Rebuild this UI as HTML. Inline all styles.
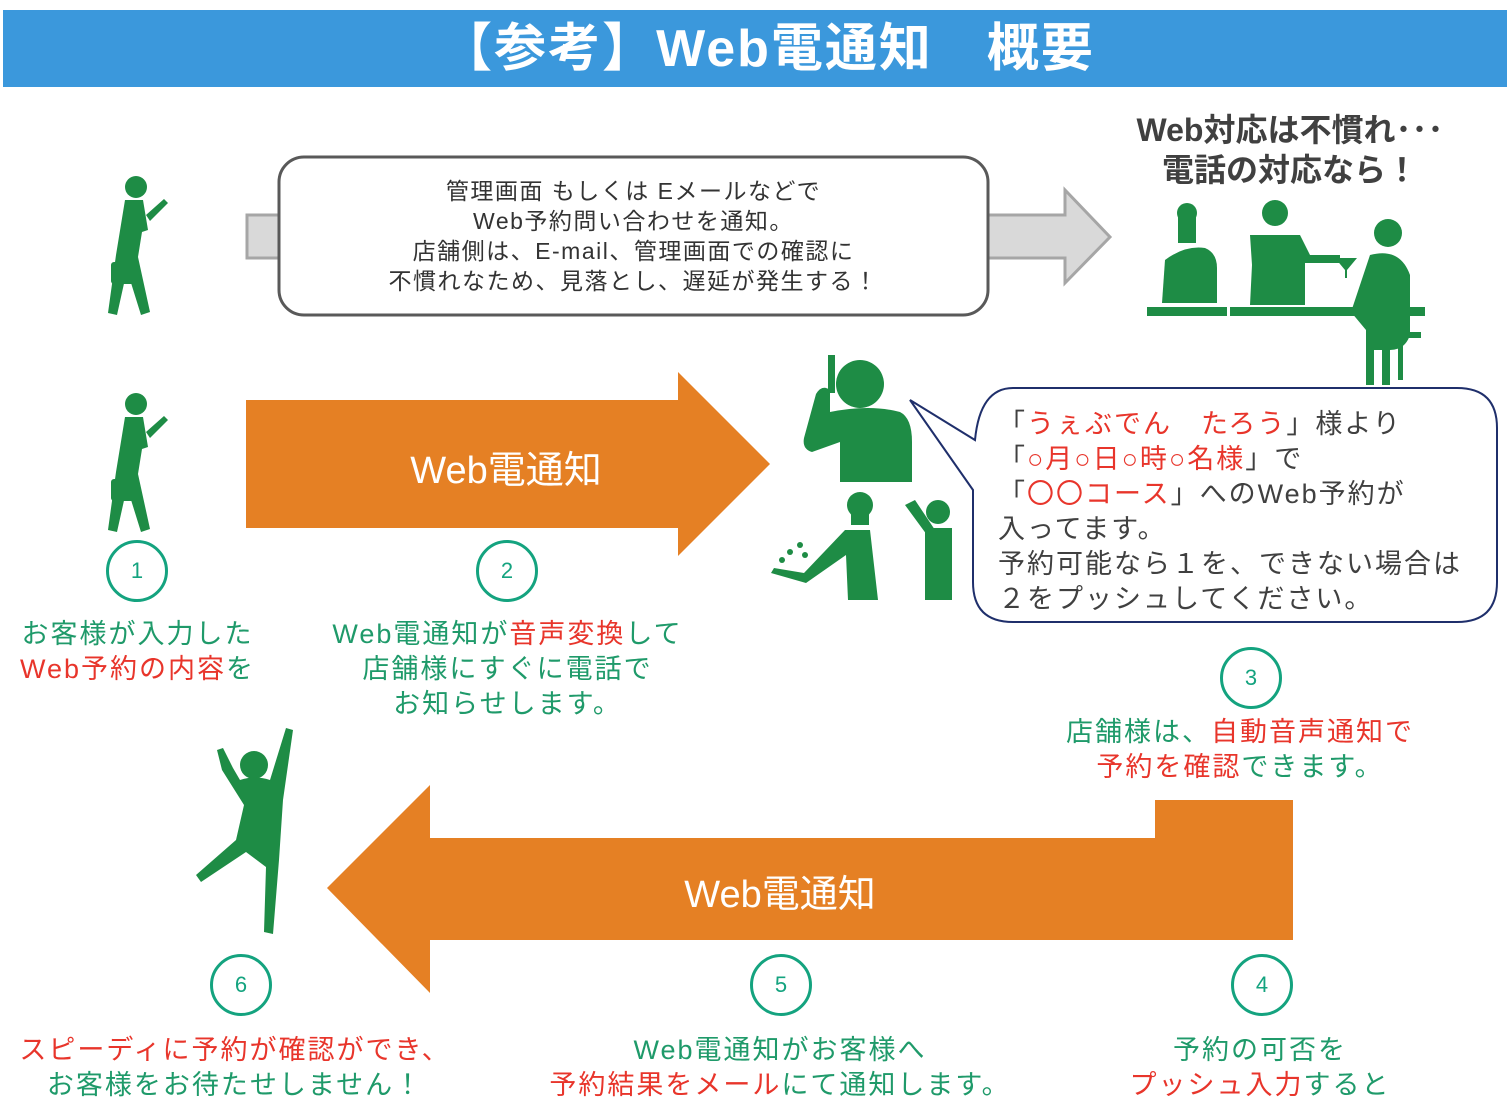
<!DOCTYPE html>
<html><head><meta charset="utf-8"><style>
body{margin:0;width:1507px;height:1109px;background:#fff;position:relative;overflow:hidden;font-family:"Liberation Sans","Noto Sans CJK JP",sans-serif}
.a{position:absolute;white-space:nowrap}
.g{color:#1f9a6a}.r{color:#e8352b}
.t{font-size:27px;text-align:center;line-height:35px;letter-spacing:2px}
.c{position:absolute;width:56px;height:56px;border:3px solid #14a37f;border-radius:50%;color:#14a37f;font-size:22px;text-align:center;line-height:56px;background:#fff}
</style></head><body>
<div class="a" style="left:3px;top:10px;width:1504px;height:77px;background:#3b98dc"></div>
<div class="a" style="left:0;top:14px;width:1535px;text-align:center;color:#fff;font-weight:bold;font-size:52px;line-height:70px;letter-spacing:2px">【参考】Web電通知　概要</div>

<svg class="a" style="left:0;top:0" width="1507" height="1109">
<polygon points="247,215 1065,215 1065,190 1110,237 1065,283 1065,258 247,258" fill="#d9d9d9" stroke="#a6a6a6" stroke-width="3"/>
<rect x="279" y="157" width="709" height="158" rx="25" fill="#fff" stroke="#595959" stroke-width="3"/>
<polygon points="246,400 678,400 678,372 770,464 678,556 678,528 246,528" fill="#e58024"/>
<polygon points="1155,800 1293,800 1293,940 430,940 430,993 327,888 430,785 430,838 1155,838" fill="#e58024"/>
<path d="M1013,388 H1457 Q1497,388 1497,428 V582 Q1497,622 1457,622 H1013 Q973,622 973,582 V490 L910,400 L975,440 Q980,388 1013,388 Z" fill="#fff" stroke="#1f2f6b" stroke-width="2"/>
<g fill="#1e8c45">
<g id="w"><circle cx="136" cy="187" r="11"/><path d="M125,200 h18 l5,30 -6,2 -4,25 12,55 -9,3 -14,-45 -10,45 -9,-2 8,-58 z"/><rect x="111" y="262" width="26" height="22" rx="3"/><path d="M146,215 l18,-16 4,4 -18,18z"/></g>
<use href="#w" y="217"/>
<circle cx="860" cy="384" r="24"/><path d="M830,412 q40,-8 70,0 q12,6 12,30 v40 h-72 v-40 l-28,10 q-10,-3 -8,-14 l12,-44 q6,-10 14,-4 z"/><rect x="828" y="355" width="7" height="38"/>
<circle cx="860" cy="505" r="13"/><rect x="851" y="505" width="18" height="20"/><path d="M845,530 h25 l8,70 h-30 l-2,-45 -40,28 -35,-10 3,-5 30,5 z"/>
<circle cx="800" cy="545" r="3"/><circle cx="790" cy="552" r="3"/><circle cx="805" cy="555" r="3"/><circle cx="782" cy="560" r="3"/>
<circle cx="938" cy="512" r="12"/><path d="M925,528 h27 v72 h-27 z M905,505 l10,-5 20,30 -8,5z"/>
<rect x="1147" y="307" width="80" height="9"/><rect x="1230" y="307" width="195" height="9"/>
<circle cx="1187" cy="213" r="10"/><rect x="1178" y="213" width="18" height="30"/><path d="M1165,260 q20,-15 40,-12 q12,5 12,20 v35 h-55 z"/>
<circle cx="1275" cy="213" r="13"/><path d="M1250,235 h50 l10,20 h30 v8 h-35 v42 h-55 l2,-40 z"/>
<circle cx="1388" cy="233" r="14"/><path d="M1370,255 q30,-8 40,20 v60 q-5,15 -20,15 v35 h-8 v-35 h-8 v35 h-8 v-55 l-15,-18 z"/><rect x="1398" y="332" width="5" height="48"/><rect x="1393" y="332" width="28" height="6"/>
<path d="M1335,258 h22 l-10,12 v8 h-2 v-8z"/>
<circle cx="254" cy="765" r="14"/><path d="M240,780 q15,-5 30,0 l16,-52 7,2 -10,70 -4,60 -6,74 -9,-2 2,-65 -20,-15 -45,30 -5,-7 40,-35 8,-35 -22,-35 -5,-20 6,-2 10,20 z"/>
</g>
</svg>

<div class="a" style="left:279px;top:176px;width:709px;text-align:center;font-size:23px;line-height:30px;color:#333;letter-spacing:1.5px">管理画面 もしくは Eメールなどで<br>Web予約問い合わせを通知。<br>店舗側は、E-mail、管理画面での確認に<br>不慣れなため、見落とし、遅延が発生する！</div>
<div class="a" style="left:1100px;top:110px;width:380px;text-align:center;font-size:32px;font-weight:bold;line-height:40px;color:#404040">Web対応は不慣れ･･･<br>電話の対応なら！</div>
<div class="a" style="left:246px;top:439px;width:520px;text-align:center;color:#fff;font-size:38px">Web電通知</div>
<div class="a" style="left:330px;top:863px;width:900px;text-align:center;color:#fff;font-size:38px">Web電通知</div>
<div class="a" style="left:998px;top:407px;font-size:27px;line-height:35px;color:#404040;letter-spacing:2px">「<span class="r">うぇぶでん　たろう</span>」様より<br>「<span class="r">○月○日○時○名様</span>」で<br>「<span class="r">〇〇コース</span>」へのWeb予約が<br>入ってます。<br>予約可能なら１を、できない場合は<br>２をプッシュしてください。</div>

<div class="c" style="left:106px;top:540px">1</div>
<div class="c" style="left:476px;top:540px">2</div>
<div class="c" style="left:1220px;top:647px">3</div>
<div class="c" style="left:1231px;top:954px">4</div>
<div class="c" style="left:750px;top:954px">5</div>
<div class="c" style="left:210px;top:954px">6</div>

<div class="a t" style="left:0;top:617px;width:275px"><span class="g">お客様が入力した</span><br><span class="r">Web予約の内容</span><span class="g">を</span></div>
<div class="a t" style="left:300px;top:617px;width:415px"><span class="g">Web電通知が</span><span class="r">音声変換</span><span class="g">して<br>店舗様にすぐに電話で<br>お知らせします。</span></div>
<div class="a t" style="left:1040px;top:715px;width:400px"><span class="g">店舗様は、</span><span class="r">自動音声通知で<br>予約を確認</span><span class="g">できます。</span></div>
<div class="a t" style="left:1060px;top:1033px;width:400px"><span class="g">予約の可否を</span><br><span class="r">プッシュ入力</span><span class="g">すると</span></div>
<div class="a t" style="left:530px;top:1033px;width:500px"><span class="g">Web電通知がお客様へ</span><br><span class="r">予約結果をメール</span><span class="g">にて通知します。</span></div>
<div class="a t" style="left:0;top:1033px;width:470px"><span class="r">スピーディに予約が確認ができ、</span><br><span class="g">お客様をお待たせしません！</span></div>
</body></html>
